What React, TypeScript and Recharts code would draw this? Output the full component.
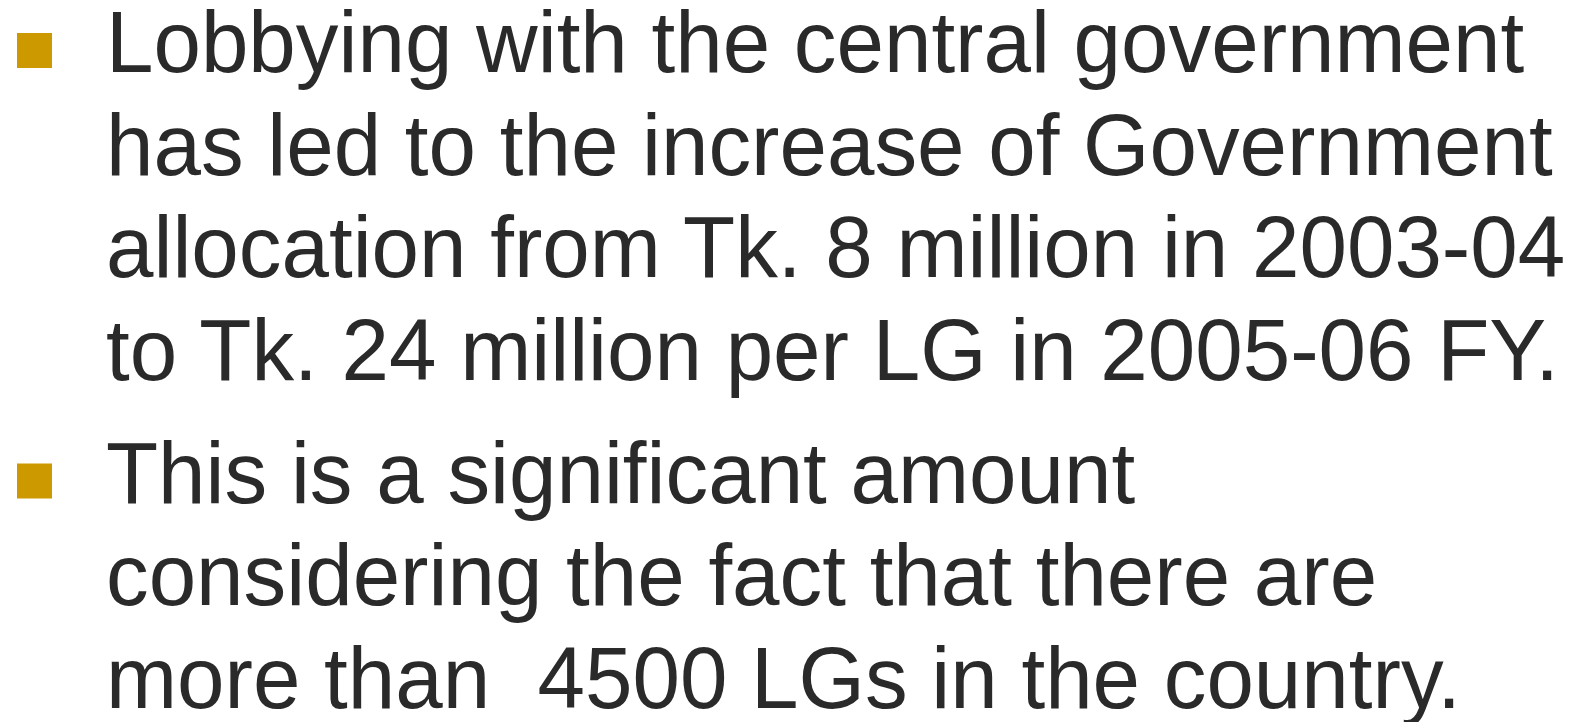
import React from "react";
import { Surface, Rectangle, Layer } from "recharts";

const bullet1Lines = [
  "Lobbying with the central government",
  "has led to the increase of Government",
  "allocation from Tk. 8 million in 2003-04",
  "to Tk. 24 million per LG in 2005-06 FY.",
];

const bullet2Lines = [
  "This is a significant amount",
  "considering the fact that there are",
  "more than  4500 LGs in the country.",
];

const paragraphs = [bullet1Lines, bullet2Lines];

const W = 1581;
const H = 722;
const FONT_SIZE = 87;
const SCALE_X = 0.981;
const LINE_STEP = 102.5;
const PARA_GAP = 123;
const TEXT_X = 106;
const FIRST_BASELINE = 72;
const BULLET_X = 17;
const BULLET_SIZE = 35;
const BULLET_OFFSET = -39;
const TEXT_COLOR = "#2a2a2a";
const BULLET_COLOR = "#cc9900";

export default function App() {
  const items: React.ReactNode[] = [];
  let baseline = FIRST_BASELINE;
  paragraphs.forEach((lines, pi) => {
    items.push(
      <Rectangle
        key={`b${pi}`}
        x={BULLET_X}
        y={baseline + BULLET_OFFSET}
        width={BULLET_SIZE}
        height={BULLET_SIZE}
        fill={BULLET_COLOR}
      />
    );
    lines.forEach((line, li) => {
      items.push(
        <g key={`t${pi}-${li}`} transform={`translate(${TEXT_X},${baseline}) scale(${SCALE_X},1)`}>
          <text
            x={0}
            y={0}
            fontSize={FONT_SIZE}
            fontFamily="'Liberation Sans', Arial, sans-serif"
            fill={TEXT_COLOR}
            style={{ whiteSpace: "pre" }}
            xmlSpace="preserve"
          >
            {line}
          </text>
        </g>
      );
      if (li < lines.length - 1) baseline += LINE_STEP;
    });
    baseline += PARA_GAP;
  });

  return (
    <div style={{ position: "absolute", left: 0, top: 0, width: W, height: H, background: "#fff" }}>
      <Surface width={W} height={H}>
        <Layer>{items}</Layer>
      </Surface>
    </div>
  );
}
